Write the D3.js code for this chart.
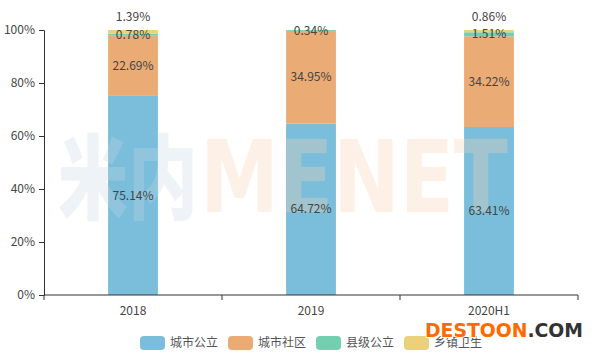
<!DOCTYPE html>
<html>
<head>
<meta charset="utf-8">
<script src="https://cdn.jsdelivr.net/npm/d3@7"></script>
<style>
  body { margin: 0; background: #fff; }
  text { font-family: "Noto Sans CJK SC", "Noto Sans", sans-serif; }
</style>
</head>
<body>
<script>
var w = 597;
var h = 353;

// data
var years = ["2018", "2019", "2020H1"];
var seriesNames = ["城市公立", "城市社区", "县级公立", "乡镇卫生"];
var cityPublic = [75.14, 64.72, 63.41];
var cityCommunity = [22.69, 34.95, 34.22];
var countyPublic = [0.78, 0.34, 1.51];
var township = [1.39, 0, 0.86];
var yTicks = [0, 20, 40, 60, 80, 100];

var colors = ["#7bbedb", "#ebab74", "#72d0b0", "#ecd17c"];

var rows = years.map(function(y, i) {
  return { year: y, "城市公立": cityPublic[i], "城市社区": cityCommunity[i],
           "县级公立": countyPublic[i], "乡镇卫生": township[i] };
});

var margin = { left: 44, right: 19, top: 30, bottom: 58 };

var x = d3.scaleBand()
          .domain(years)
          .range([margin.left, w - margin.right])
          .paddingInner(0.72)
          .paddingOuter(0.36);

var band = d3.scaleBand().domain(years).range([margin.left, w - margin.right]);

var y = d3.scaleLinear()
          .domain([0, 100])
          .range([h - margin.bottom, margin.top]);

var color = d3.scaleOrdinal().domain(seriesNames).range(colors);

var stacked = d3.stack().keys(seriesNames)(rows);

var svg = d3.select("body")
            .append("svg")
            .attr("width", w)
            .attr("height", h);

// bars
var layer = svg.selectAll("g.layer")
    .data(stacked)
    .enter()
    .append("g")
    .attr("class", "layer")
    .attr("fill", d => color(d.key));

layer.selectAll("rect")
    .data(d => d)
    .enter()
    .append("rect")
    .attr("x", d => x(d.data.year))
    .attr("width", x.bandwidth())
    .attr("y", d => y(d[1]))
    .attr("height", d => y(d[0]) - y(d[1]));

// y axis
var yAxis = svg.append("g")
    .attr("transform", "translate(" + margin.left + ",0)")
    .call(d3.axisLeft(y).tickValues(yTicks).tickSize(5).tickPadding(4).tickFormat(d => d + "%"));
yAxis.select(".domain").attr("stroke", "#333");
yAxis.selectAll(".tick line").attr("stroke", "#333");
yAxis.selectAll(".tick text").attr("fill", "#444").style("font-size", "12px");

// x axis (ticks on band edges)
var xg = svg.append("g")
    .attr("transform", "translate(0," + y(0) + ")");
xg.append("line")
    .attr("x1", margin.left).attr("x2", w - margin.right)
    .attr("stroke", "#333");
var edges = years.map(d => band(d)).concat([band(years[years.length - 1]) + band.bandwidth()]);
xg.selectAll("line.tk")
    .data(edges)
    .enter()
    .append("line")
    .attr("class", "tk")
    .attr("x1", d => d).attr("x2", d => d)
    .attr("y1", 0).attr("y2", 5)
    .attr("stroke", "#333");
xg.selectAll("text")
    .data(years)
    .enter()
    .append("text")
    .attr("x", d => x(d) + x.bandwidth() / 2)
    .attr("y", 20)
    .attr("text-anchor", "middle")
    .attr("fill", "#444")
    .style("font-size", "12px")
    .text(d => d);

// watermark (faint, behind the labels)
var wm = svg.append("g").attr("pointer-events", "none");
wm.append("text")
  .attr("x", 58).attr("y", 212)
  .attr("textLength", 140).attr("lengthAdjust", "spacingAndGlyphs")
  .attr("fill", "#c4d8e3").attr("opacity", 0.3)
  .style("font-size", "92px").style("font-weight", "900")
  .text("米内");
wm.append("text")
  .attr("x", 200).attr("y", 212)
  .attr("textLength", 308).attr("lengthAdjust", "spacingAndGlyphs")
  .attr("fill", "#fbd3b2").attr("opacity", 0.3)
  .style("font-size", "100px").style("font-weight", "bold")
  .style("font-family", "'DejaVu Sans', sans-serif")
  .text("MENET");

// value labels
stacked.forEach(function(s, si) {
  s.forEach(function(d) {
    var v = d[1] - d[0];
    if (!v) return;
    var cx = x(d.data.year) + x.bandwidth() / 2;
    var cy = (y(d[0]) + y(d[1])) / 2;
    var last = si === stacked.length - 1;
    if (last) cy = y(d[1]) - 13;
    svg.append("text")
       .attr("x", cx)
       .attr("y", cy)
       .attr("dy", "0.35em")
       .attr("text-anchor", "middle")
       .attr("fill", "#444")
       .style("font-size", "12px")
       .text(v.toFixed(2) + "%");
  });
});

// legend
var lg = svg.selectAll("g.legend")
    .data(seriesNames)
    .enter()
    .append("g")
    .attr("class", "legend")
    .attr("transform", (d, i) => "translate(" + (140 + i * 88) + ",336)");
lg.append("rect")
  .attr("width", 25).attr("height", 14).attr("rx", 4)
  .attr("fill", d => color(d));
lg.append("text")
  .attr("x", 30).attr("y", 7).attr("dy", "0.35em")
  .attr("fill", "#555")
  .style("font-size", "12px")
  .text(d => d);

// site mark
var sm = svg.append("text")
  .attr("x", 425).attr("y", 337)
  .attr("textLength", 158).attr("lengthAdjust", "spacingAndGlyphs")
  .style("font-size", "20px").style("font-weight", "bold")
  .style("font-family", "'DejaVu Sans', sans-serif")
  .attr("stroke", "#fff").attr("stroke-width", 2).attr("paint-order", "stroke");
sm.append("tspan").attr("fill", "#ff6a00").text("DESTOON");
sm.append("tspan").attr("fill", "#333").text(".COM");
</script>
</body>
</html>
